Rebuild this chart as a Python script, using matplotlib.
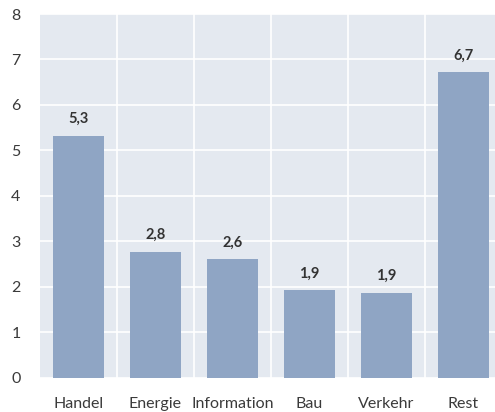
import numpy as np
import matplotlib.pyplot as plt

categories = ['Handel', 'Energie', 'Information', 'Bau', 'Verkehr', 'Rest']
values = [5.32, 2.77, 2.61, 1.92, 1.87, 6.72]
labels = ['5,3', '2,8', '2,6', '1,9', '1,9', '6,7']

bar_color = '#8fa5c4'
bg_color = '#e4e9f0'
text_color = '#333333'

plt.rcParams['font.family'] = ['Lato', 'DejaVu Sans']

fig = plt.figure(figsize=(4.95, 4.12), dpi=100)
ax = fig.add_axes([40 / 495, 34.3 / 412, 455 / 495, 363.7 / 412])
ax.set_facecolor(bg_color)

x = np.arange(len(categories))
ax.bar(x, values, width=0.66, color=bar_color, zorder=3)
for xi, v, lab in zip(x, values, labels):
    ax.annotate(lab, (xi, v), xytext=(0, 7), textcoords='offset points',
                ha='center', va='bottom', fontsize=10.5, fontweight='bold',
                color=text_color, zorder=4)

ax.set_xlim(-0.5, 5.41)
ax.set_ylim(0, 8)
ax.set_yticks(range(0, 9))
ax.set_xticks(x)
ax.set_xticklabels(categories)
ax.set_xticks(x[:-1] + 0.5, minor=True)

ax.grid(axis='y', which='major', color='white', lw=1.2, zorder=1)
ax.grid(axis='x', which='minor', color='white', lw=1.2, zorder=1)
ax.grid(axis='x', which='major', visible=False)

for s in ax.spines.values():
    s.set_visible(False)
ax.tick_params(axis='both', which='both', length=0, colors='#3a3a3a', labelsize=11.5)
ax.tick_params(axis='y', pad=14)
ax.tick_params(axis='x', pad=14)

fig.savefig('out.png', dpi=100, facecolor='white')
